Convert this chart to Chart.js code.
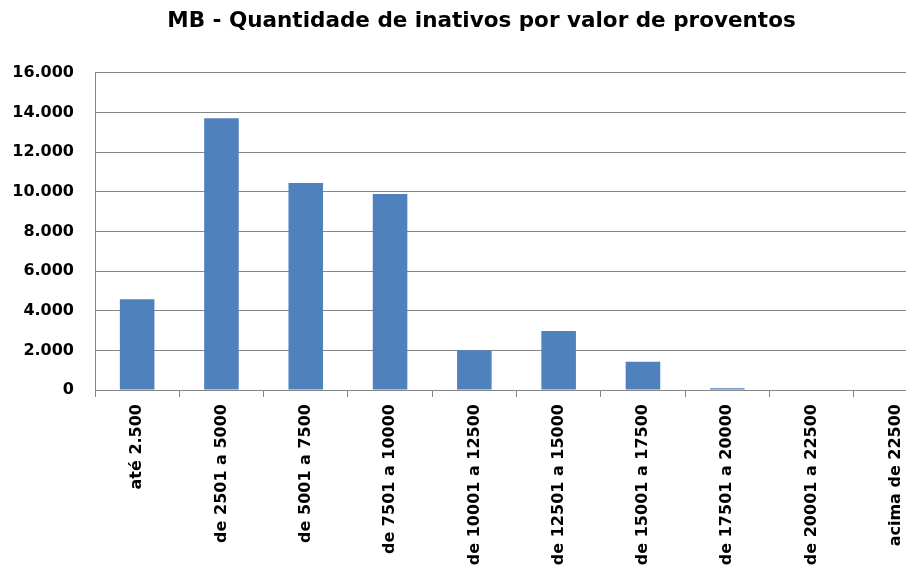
<!DOCTYPE html>
<html>
<head>
<meta charset="utf-8">
<script src="https://cdn.jsdelivr.net/npm/chart.js@4/dist/chart.umd.min.js"></script>
<style>
  html, body { margin: 0; padding: 0; background: #fff; overflow: hidden; }
  #wrap { width: 945px; height: 569px; position: relative; }
</style>
</head>
<body>
<div id="wrap"><canvas id="c"></canvas></div>
<script>
const categories = ["até 2.500", "de 2501 a 5000", "de 5001 a 7500", "de 7501 a 10000", "de 10001 a 12500", "de 12501 a 15000", "de 15001 a 17500", "de 17501 a 20000", "de 20001 a 22500", "acima de 22500"];
const inativos = [4580, 13710, 10440, 9890, 2000, 2970, 1420, 90, 0, 0];
const yTicks = [0, 2000, 4000, 6000, 8000, 10000, 12000, 14000, 16000];
const titleText = "MB - Quantidade de inativos por valor de proventos";

function fmt(v) {
  return String(v).replace(/\B(?=(\d{3})+(?!\d))/g, ".");
}

const fontFamily = "'DejaVu Sans', sans-serif";

// let the y tick labels use the space to the left of the y scale box (avoid clipping)
const widenYLabelArea = {
  id: 'widenYLabelArea',
  afterLayout(chart) {
    const y = chart.scales.y;
    y.left = 0;
    y.width = y.right;
  }
};

new Chart(document.getElementById('c'), {
  type: 'bar',
  data: {
    labels: categories,
    datasets: [{
      label: 'Inativos',
      data: inativos,
      backgroundColor: '#4F81BD',
      borderWidth: 0,
      categoryPercentage: 1.0,
      barPercentage: 0.41
    }]
  },
  plugins: [widenYLabelArea],
  options: {
    responsive: true,
    maintainAspectRatio: false,
    animation: false,
    layout: { padding: { left: 25, right: 7, top: 0, bottom: 0 } },
    plugins: {
      legend: { display: false },
      tooltip: { enabled: false },
      title: {
        display: true,
        text: titleText,
        color: '#000',
        font: { family: fontFamily, size: 21.5, weight: 'bold', lineHeight: 1.2 },
        padding: { top: 9, bottom: 38 }
      }
    },
    scales: {
      x: {
        grid: {
          display: true,
          drawOnChartArea: false,
          drawTicks: true,
          tickLength: 7,
          color: '#868686',
          offset: true
        },
        border: { display: true, color: '#868686' },
        ticks: {
          color: '#000',
          minRotation: 90,
          maxRotation: 90,
          autoSkip: false,
          padding: 7,
          font: { family: fontFamily, size: 16, weight: 'bold' }
        },
        afterFit: (s) => { s.height = 179; }
      },
      y: {
        min: 0,
        max: 16000,
        afterBuildTicks: (s) => { s.ticks = yTicks.map(v => ({ value: v })); },
        grid: {
          color: '#868686',
          drawTicks: false
        },
        border: { display: true, color: '#868686' },
        ticks: {
          color: '#000',
          padding: 21,
          font: { family: fontFamily, size: 16, weight: 'bold' },
          callback: (v) => fmt(v)
        },
        afterFit: (s) => { s.width = 70; }
      }
    }
  }
});
</script>
</body>
</html>
